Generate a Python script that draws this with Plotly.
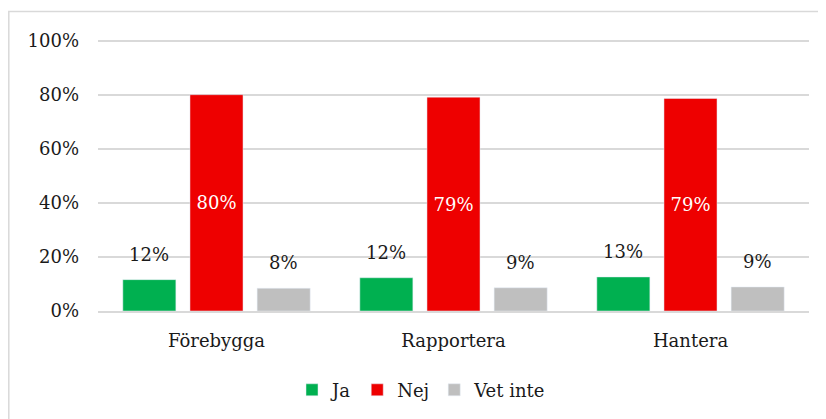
import plotly.graph_objects as go

categories = ["Förebygga", "Rapportera", "Hantera"]
ja = [11.6, 12.3, 12.6]
nej = [80.0, 79.1, 78.6]
vet_inte = [8.4, 8.6, 8.9]
series_names = ["Ja", "Nej", "Vet inte"]
y_ticks = [0, 20, 40, 60, 80, 100]
y_tick_labels = ["0%", "20%", "40%", "60%", "80%", "100%"]

colors = ["#00B050", "#EE0000", "#BFBFBF"]
FONT = "DejaVu Serif"
FS = 18
Y_MAX = 100.6
# page body has an 8px margin, so the figure is 8px smaller and shifted
W, H = 818, 411
L, R, B = 90, 17, 108
T = 33 - 270 * (Y_MAX - 100) / 100
pw, ph = W - L - R, H - T - B

fig = go.Figure()
fig.add_trace(go.Bar(name=series_names[0], x=categories, y=ja, marker_color=colors[0]))
fig.add_trace(go.Bar(name=series_names[1], x=categories, y=nej, marker_color=colors[1],
                     text=[f"{v:.0f}%" for v in nej], textposition="inside",
                     insidetextanchor="middle",
                     textfont=dict(family=FONT, size=FS, color="white")))
fig.add_trace(go.Bar(name=series_names[2], x=categories, y=vet_inte, marker_color=colors[2]))

slot = pw / len(categories) * (1 - 0.15) / 3
annotations = []
for vals, shift in ((ja, -slot), (vet_inte, slot)):
    for c, v in zip(categories, vals):
        annotations.append(dict(x=c, y=v, text=f"{v:.0f}%", showarrow=False,
                                xshift=shift, yshift=13, yanchor="bottom",
                                font=dict(family=FONT, size=FS, color="#1a1a1a")))

# chart border (partially cropped in the reference)
bx0 = (0.8 - L) / pw
by1 = 1 + (T - 4) / ph
fig.add_shape(type="rect", xref="paper", yref="paper", x0=bx0, x1=1.2, y0=-0.6, y1=by1,
              line=dict(color="#D9D9D9", width=1.5), fillcolor="rgba(0,0,0,0)", layer="below")

fig.update_layout(
    width=W, height=H,
    margin=dict(l=L, r=R, t=T, b=B, autoexpand=False),
    paper_bgcolor="white", plot_bgcolor="white",
    barmode="group", bargap=0.15, bargroupgap=0.21,
    font=dict(family=FONT, size=FS, color="#1a1a1a"),
    annotations=annotations,
    showlegend=True,
    legend=dict(orientation="h", x=0.455, xanchor="center", y=(T + ph - 382) / ph,
                yanchor="middle", font=dict(family=FONT, size=FS), itemwidth=30,
                traceorder="normal"),
    hovermode=False,
    xaxis=dict(showgrid=False, showline=True, linecolor="#D9D9D9", linewidth=1.5,
               ticks="", ticklabelstandoff=13, tickfont=dict(family=FONT, size=FS)),
    yaxis=dict(range=[0, Y_MAX], tickvals=y_ticks, ticktext=y_tick_labels,
               showgrid=True, gridcolor="#D9D9D9", gridwidth=1.5, zeroline=False,
               showline=False, ticks="", ticklabelstandoff=18,
               tickfont=dict(family=FONT, size=FS)),
)
fig.write_html("out.html")
